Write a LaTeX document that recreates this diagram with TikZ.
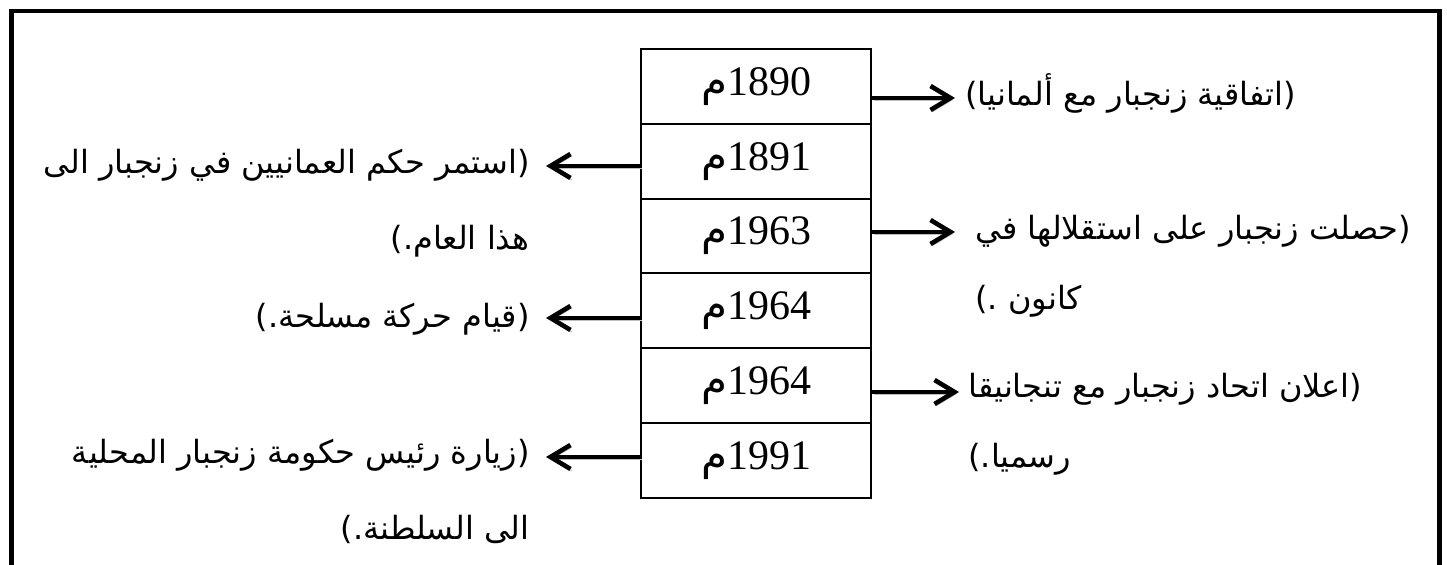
\documentclass[tikz,border=0pt]{standalone}
\usepackage{fontspec}
\usepackage{tikz}
\usetikzlibrary{positioning,arrows.meta}
\TeXXeTstate=1
\setmainfont{Liberation Serif}
\newfontfamily\arabicfont[Script=Arabic]{DejaVu Sans}
\tikzstyle{yearcell} = [rectangle, draw, line width=1pt, minimum width=115pt, minimum height=37.4pt, inner sep=0pt, font=\fontsize{21}{21}\selectfont]
\tikzstyle{eventleft} = [anchor=base east, align=right, inner sep=0pt, font=\arabicfont\fontsize{16}{38}\selectfont]
\tikzstyle{eventright} = [anchor=base west, align=left, inner sep=0pt, font=\arabicfont\fontsize{16}{35}\selectfont]
\tikzstyle{timearrow} = [line width=2.3pt, preaction={draw=black!25, transform canvas={shift={(0.8pt,-1pt)}}}]

\begin{document}
\begin{tikzpicture}[->,>={Straight Barb[length=10pt,width=12pt]},x=0.5pt,y=-0.5pt,node distance=37.4pt]
  \useasboundingbox (0,0) rectangle (1447,565);
  \draw[-, line width=2.4pt] (11.5,565) -- (11.5,11) -- (1439.5,11) -- (1439.5,565);

  \node[yearcell] (y1890) at (756,86.4) {{\arabicfont م}1890};
  \node[yearcell] (y1891) [below of=y1890] {{\arabicfont م}1891};
  \node[yearcell] (y1963) [below of=y1891] {{\arabicfont م}1963};
  \node[yearcell] (y1964) [below of=y1963] {{\arabicfont م}1964};
  \node[yearcell] (y1964b) [below of=y1964] {{\arabicfont م}1964};
  \node[yearcell] (y1991) [below of=y1964b] {{\arabicfont م}1991};

  \node[eventright] (a1890) at (965,106) {\beginR(اتفاقية زنجبار مع ألمانيا)\endR};
  \node[eventleft] (a1891) at (530,250) {\beginR(استمر حكم العمانيين في زنجبار الى\endR\\\beginR هذا العام.)\endR};
  \node[eventright] (a1963) at (975,310) {\beginR(حصلت زنجبار على استقلالها في\endR\\\beginR كانون .)\endR};
  \node[eventleft] (a1964) at (530,328) {\beginR(قيام حركة مسلحة.)\endR};
  \node[eventright] (a1964b) at (968,468) {\beginR(اعلان اتحاد زنجبار مع تنجانيقا\endR\\\beginR رسميا.)\endR};
  \node[eventleft] (a1991) at (530,540) {\beginR(زيارة رئيس حكومة زنجبار المحلية\endR\\\beginR الى السلطنة.)\endR};

  \coordinate (e1890) at (955,98);
  \coordinate (e1891) at (546,166);
  \coordinate (e1963) at (955,232);
  \coordinate (e1964) at (546,318);
  \coordinate (e1964b) at (959,392);
  \coordinate (e1991) at (546,457);

  \path (y1890.east |- e1890) edge[timearrow] (e1890);
  \path (y1891.west |- e1891) edge[timearrow] (e1891);
  \path (y1963.east |- e1963) edge[timearrow] (e1963);
  \path (y1964.west |- e1964) edge[timearrow] (e1964);
  \path (y1964b.east |- e1964b) edge[timearrow] (e1964b);
  \path (y1991.west |- e1991) edge[timearrow] (e1991);
\end{tikzpicture}
\end{document}
